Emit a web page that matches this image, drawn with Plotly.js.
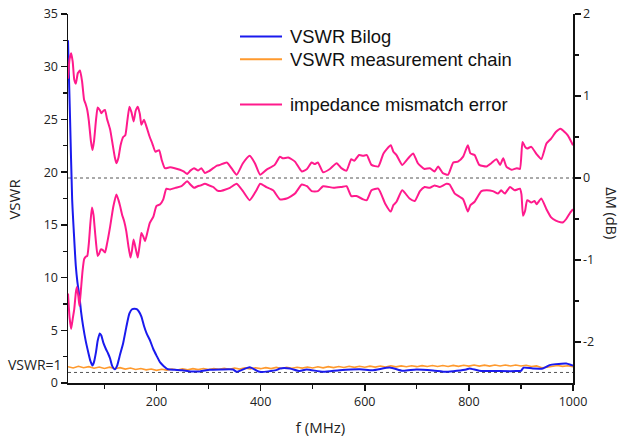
<!DOCTYPE html>
<html>
<head>
<meta charset="utf-8">
<script src="https://cdn.plot.ly/plotly-3.0.1.min.js"></script>
<style>html,body{margin:0;padding:0;background:#fff;}#chart{width:624px;height:443px;}</style>
</head>
<body>
<div id="chart"></div>
<script>
// ---- Data ----
const bilogF = [30,34,38,41,45,48,52,55,59,64,69,73,77,80,84,87,91,94,98,103,107,111,115,120,124,130,136,142,148,153,158,162,166,171,176,181,187,194,200,207,214,222,235,250,265,283,302,322,347,354,379,398,430,437,456,475,488,520,552,590,616,648,673,699,731,757,795,801,820,859,891,900,905,923,942,955,967,987,997,1000];
const bilogVSWR = [32.5,25,17.4,14.5,11.1,9.6,8.2,6.8,5.4,4.0,2.9,2.1,1.65,2.0,3.0,4.0,4.7,4.5,3.8,3.2,2.8,2.3,1.6,1.3,1.6,2.7,3.8,5.3,6.6,7.0,7.05,7.0,6.8,6.3,5.4,4.7,4.1,3.2,2.6,1.95,1.6,1.3,1.25,1.2,1.1,1.1,1.25,1.28,1.28,1.06,1.5,1.06,1.22,1.38,1.38,1.13,1.28,1.06,1.22,1.31,1.22,1.47,1.16,1.28,1.19,1.06,1.28,1.38,1.16,1.13,1.13,1.16,1.45,1.38,1.38,1.7,1.79,1.85,1.7,1.65];

const chainF = [30,40,50,60,70,80,90,100,110,120,130,140,150,160,170,180,190,200,210,220,230,240,250,260,270,280,290,300,310,320,330,340,350,360,370,380,390,400,410,420,430,440,450,460,470,480,490,500,510,520,530,540,550,560,570,580,590,600,610,620,630,640,650,660,670,680,690,700,710,720,730,740,750,760,770,780,790,800,810,820,830,840,850,860,870,880,890,900,910,920,930,940,950,960,970,980,990,1000];
const chainVSWR = [1.55,1.42,1.58,1.45,1.55,1.40,1.52,1.38,1.50,1.36,1.46,1.32,1.42,1.28,1.38,1.25,1.33,1.20,1.30,1.22,1.32,1.24,1.34,1.25,1.36,1.27,1.37,1.28,1.38,1.30,1.40,1.31,1.42,1.32,1.43,1.34,1.45,1.36,1.46,1.37,1.48,1.38,1.49,1.40,1.50,1.41,1.52,1.43,1.54,1.44,1.55,1.46,1.57,1.47,1.58,1.48,1.59,1.50,1.60,1.51,1.61,1.52,1.63,1.53,1.62,1.54,1.64,1.55,1.65,1.56,1.66,1.56,1.66,1.57,1.67,1.58,1.68,1.60,1.70,1.60,1.69,1.60,1.70,1.61,1.70,1.62,1.71,1.62,1.68,1.56,1.62,1.45,1.50,1.58,1.66,1.58,1.63,1.54];

const errUpF = [30,33,36,39,42,45,49,53,57,61,64,67,70,74,77,80,84,87,91,94,98,101,105,111,116,120,123,127,131,136,140,144,148,152,156,160,164,168,171,176,181,187,192,198,205,210,216,226,235,245,252,259,265,272,280,286,293,300,309,316,322,335,344,354,366,379,389,399,411,427,437,443,453,466,479,489,498,504,510,520,533,546,555,565,574,580,589,597,604,613,626,636,650,655,661,672,686,693,702,715,725,734,741,750,760,770,779,789,798,803,811,820,834,843,853,860,866,872,882,892,898,903,908,912,920,930,939,949,958,967,976,984,990,1000];
const errUpDB = [1.21,1.45,1.52,1.42,1.20,1.15,1.28,1.31,1.18,0.95,0.90,0.83,0.70,0.45,0.34,0.45,0.72,0.86,0.83,0.79,0.82,0.83,0.72,0.59,0.40,0.25,0.18,0.25,0.40,0.50,0.52,0.70,0.87,0.80,0.69,0.82,0.87,0.78,0.65,0.71,0.62,0.50,0.42,0.32,0.34,0.22,0.12,0.13,0.12,0.10,0.08,0.05,0.09,0.12,0.09,0.12,0.06,0.08,0.12,0.15,0.16,0.19,0.12,0.04,0.18,0.27,0.18,0.04,0.10,0.16,0.26,0.24,0.25,0.20,0.08,0.11,0.19,0.17,0.19,0.07,0.11,0.18,0.12,0.09,0.23,0.21,0.28,0.27,0.28,0.16,0.14,0.30,0.40,0.32,0.28,0.16,0.26,0.30,0.18,0.11,0.12,0.08,0.14,0.06,0.04,0.19,0.20,0.26,0.40,0.30,0.28,0.16,0.14,0.18,0.23,0.16,0.24,0.14,0.10,0.12,0.11,0.44,0.38,0.36,0.38,0.29,0.23,0.42,0.48,0.56,0.60,0.56,0.52,0.40];

const errLoF = [30,33,36,39,42,45,47,50,52,55,58,61,64,67,70,73,76,79,81,84,87,90,93,97,101,105,111,117,123,127,130,134,138,142,146,150,153,156,160,164,168,171,175,178,183,187,194,200,207,213,219,226,236,248,259,265,272,279,285,293,301,309,316,322,341,354,366,379,392,399,411,424,437,450,466,479,489,498,510,520,540,555,565,574,584,597,604,613,626,639,650,655,661,672,686,696,706,715,725,734,744,757,763,773,789,798,803,811,824,834,846,856,862,869,879,888,898,901,904,908,912,920,926,930,939,949,958,967,976,981,987,995,1000];
const errLoDB = [-1.41,-1.70,-1.84,-1.72,-1.60,-1.40,-1.33,-1.45,-1.56,-1.35,-1.13,-0.99,-0.96,-0.95,-0.80,-0.55,-0.36,-0.45,-0.59,-0.80,-0.95,-0.92,-0.87,-0.88,-0.91,-0.80,-0.59,-0.35,-0.20,-0.27,-0.34,-0.45,-0.53,-0.65,-0.83,-0.97,-0.88,-0.75,-0.86,-0.97,-0.80,-0.67,-0.72,-0.77,-0.65,-0.55,-0.47,-0.34,-0.32,-0.26,-0.13,-0.14,-0.12,-0.10,-0.04,-0.08,-0.12,-0.10,-0.09,-0.07,-0.09,-0.11,-0.15,-0.16,-0.12,-0.07,-0.16,-0.27,-0.15,-0.07,-0.11,-0.15,-0.26,-0.25,-0.19,-0.08,-0.10,-0.16,-0.16,-0.10,-0.12,-0.11,-0.10,-0.22,-0.22,-0.26,-0.27,-0.15,-0.13,-0.31,-0.41,-0.33,-0.29,-0.15,-0.25,-0.28,-0.16,-0.11,-0.12,-0.09,-0.11,-0.07,-0.08,-0.19,-0.26,-0.41,-0.33,-0.29,-0.16,-0.15,-0.16,-0.19,-0.15,-0.19,-0.11,-0.15,-0.13,-0.20,-0.46,-0.40,-0.27,-0.30,-0.28,-0.32,-0.25,-0.38,-0.48,-0.52,-0.54,-0.54,-0.50,-0.42,-0.38];

const seriesNames = ['VSWR Bilog', 'VSWR measurement chain', 'impedance mismatch error'];
const xTickVals = [200,400,600,800,1000];
const yTickVals = [0,5,10,15,20,25,30,35];
const y2TickVals = [-2,-1,0,1,2];
const y2TickText = ['-2','-1','0','1','2'];

// ---- Styles ----
const BLUE = '#1a1aee', ORANGE = '#ff9a2e', PINK = '#ff1a8c';
const tickFont = {family: 'Open Sans, sans-serif', size: 12.5, color: '#222'};

const traces = [
  {x: chainF, y: chainVSWR, type: 'scatter', mode: 'lines', name: seriesNames[1],
   line: {color: ORANGE, width: 1.6}, yaxis: 'y', showlegend: false},
  {x: bilogF, y: bilogVSWR, type: 'scatter', mode: 'lines', name: seriesNames[0],
   line: {color: BLUE, width: 2, shape: 'spline', smoothing: 0.6}, yaxis: 'y', showlegend: false},
  {x: errUpF, y: errUpDB, type: 'scatter', mode: 'lines', name: seriesNames[2],
   line: {color: PINK, width: 2, shape: 'spline', smoothing: 0.5}, yaxis: 'y2', showlegend: false},
  {x: errLoF, y: errLoDB, type: 'scatter', mode: 'lines', name: seriesNames[2],
   line: {color: PINK, width: 2, shape: 'spline', smoothing: 0.5}, yaxis: 'y2', showlegend: false}
];

const legendRows = [0.9393, 0.8772, 0.7549];
const legendColors = [BLUE, ORANGE, PINK];

const shapes = [
  {type: 'line', xref: 'paper', x0: 0, x1: 1, yref: 'y', y0: 1, y1: 1,
   line: {color: '#555', width: 1, dash: '3px,3px'}, layer: 'below'},
  {type: 'line', xref: 'paper', x0: 0, x1: 1, yref: 'y2', y0: 0, y1: 0,
   line: {color: '#555', width: 1, dash: '3px,3px'}, layer: 'below'}
];
legendRows.forEach((yy, i) => {
  shapes.push({type: 'line', xref: 'paper', yref: 'paper', x0: 0.3406, x1: 0.4238, y0: yy, y1: yy,
    line: {color: legendColors[i], width: 2}});
});

const annotations = seriesNames.map((n, i) => ({
  text: n, xref: 'paper', yref: 'paper', x: 0.4356, y: legendRows[i],
  xanchor: 'left', yanchor: 'middle', showarrow: false,
  font: {family: 'Liberation Sans, Arial, sans-serif', size: 18.4, color: '#111'}
}));
annotations.push(
  {text: 'VSWR=1', xref: 'paper', yref: 'y', x: 0, y: 1.75, xanchor: 'right', yanchor: 'middle',
   xshift: -4, showarrow: false, font: {family: 'Open Sans, sans-serif', size: 14, color: '#222'}},
  {text: 'VSWR', xref: 'paper', yref: 'paper', x: 0, y: 0.497, xshift: -54, xanchor: 'center', yanchor: 'middle',
   textangle: -90, showarrow: false, font: {family: 'Open Sans, sans-serif', size: 15, color: '#222'}},
  {text: 'ΔM (dB)', xref: 'paper', yref: 'paper', x: 1, y: 0.46, xshift: 39, xanchor: 'center', yanchor: 'middle',
   textangle: 90, showarrow: false, font: {family: 'Open Sans, sans-serif', size: 14.5, color: '#222'}}
);

const layout = {
  width: 624, height: 443,
  margin: {l: 68, r: 51, t: 13.5, b: 59.5, pad: 0},
  paper_bgcolor: '#fff', plot_bgcolor: '#fff',
  showlegend: false,
  xaxis: {
    range: [30, 1000], tickmode: 'array', tickvals: xTickVals,
    showgrid: false, zeroline: false, showline: true, linecolor: '#111', linewidth: 1.5,
    ticks: 'outside', ticklen: 6, tickwidth: 1.5, tickcolor: '#111', tickfont: tickFont,
    minor: {tickmode: 'array', tickvals: [100,300,500,700,900], ticks: 'outside', ticklen: 4, tickwidth: 1.3, tickcolor: '#111', showgrid: false},
    title: {text: 'f (MHz)', font: {family: 'Open Sans, sans-serif', size: 15, color: '#222'}, standoff: 14}
  },
  yaxis: {
    range: [0, 35], tickmode: 'array', tickvals: yTickVals,
    showgrid: false, zeroline: false, showline: true, linecolor: '#111', linewidth: 1.5,
    ticks: 'outside', ticklen: 6, tickwidth: 1.5, tickcolor: '#111', tickfont: tickFont,
    minor: {tickmode: 'array', tickvals: [2.5,7.5,12.5,17.5,22.5,27.5,32.5], ticks: 'outside', ticklen: 4, tickwidth: 1.3, tickcolor: '#111', showgrid: false}
  },
  yaxis2: {
    overlaying: 'y', side: 'right', range: [-2.5, 2],
    tickmode: 'array', tickvals: y2TickVals, ticktext: y2TickText,
    showgrid: false, zeroline: false, showline: true, linecolor: '#111', linewidth: 1.5,
    ticks: 'outside', ticklen: 6, tickwidth: 1.5, tickcolor: '#111', tickfont: tickFont,
    minor: {tickmode: 'array', tickvals: [-1.5,-0.5,0.5,1.5], ticks: 'outside', ticklen: 4, tickwidth: 1.3, tickcolor: '#111', showgrid: false}
  },
  shapes: shapes,
  annotations: annotations
};

Plotly.newPlot('chart', traces, layout, {displayModeBar: false, staticPlot: true});
</script>
</body>
</html>
